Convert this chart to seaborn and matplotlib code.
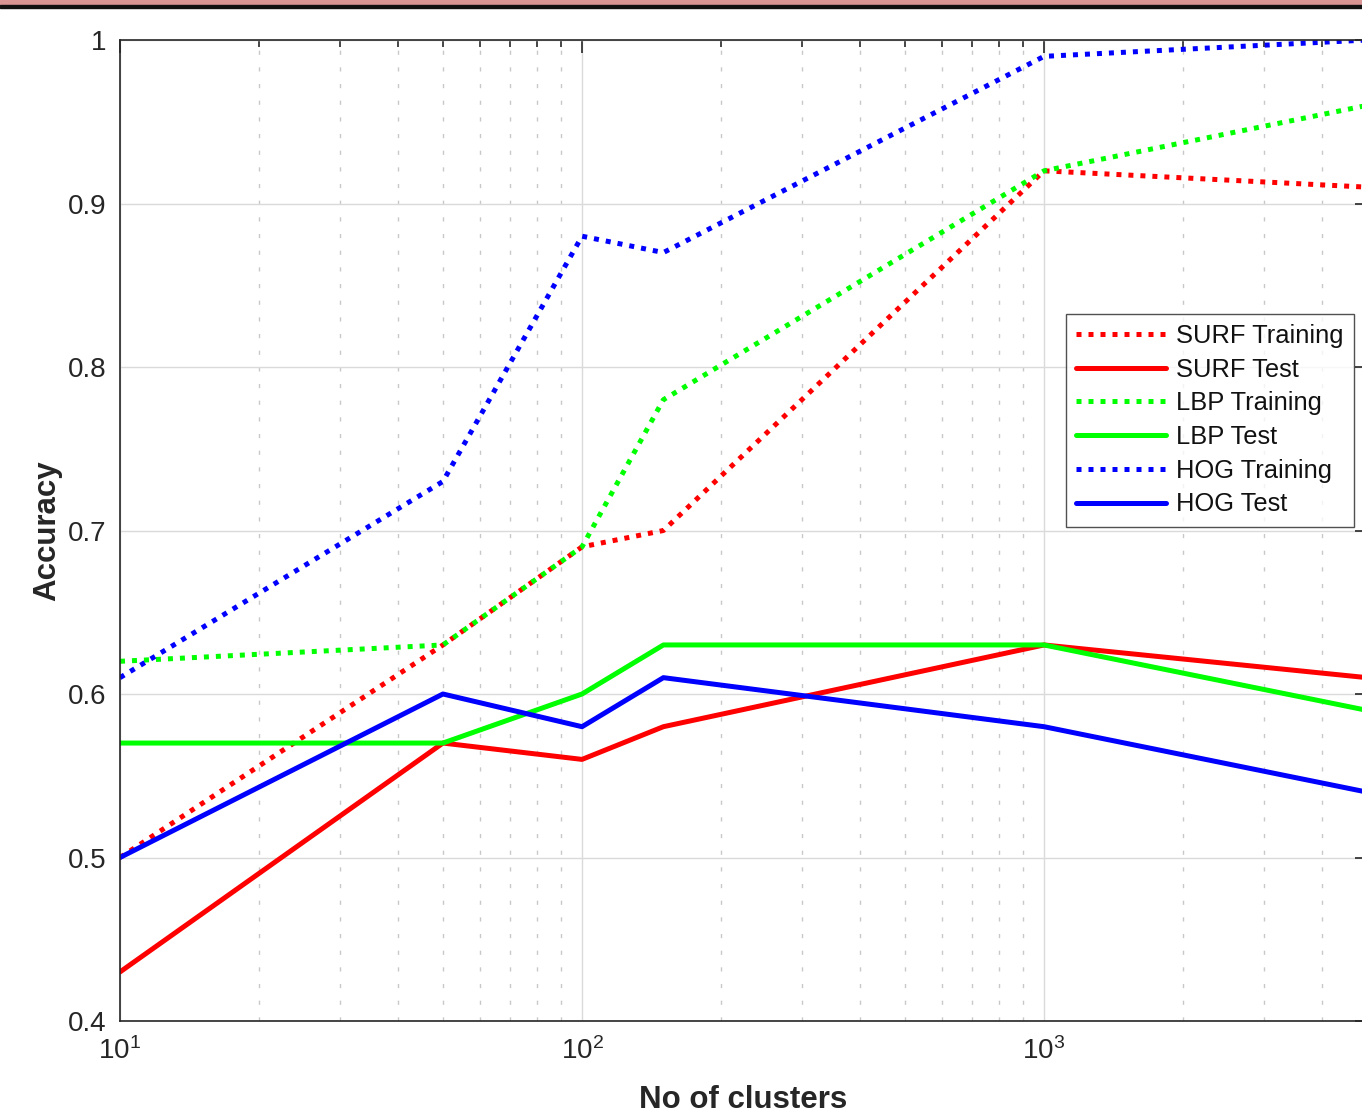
import numpy as np
import pandas as pd
import seaborn as sns
import matplotlib.pyplot as plt
from matplotlib.patches import Rectangle
from matplotlib.ticker import LogLocator, NullFormatter

# data
clusters = [10, 50, 100, 150, 1000, 5000]
surf_train = [0.50, 0.63, 0.69, 0.70, 0.92, 0.91]
surf_test = [0.43, 0.57, 0.56, 0.58, 0.63, 0.61]
lbp_train = [0.62, 0.63, 0.69, 0.78, 0.92, 0.96]
lbp_test = [0.57, 0.57, 0.60, 0.63, 0.63, 0.59]
hog_train = [0.61, 0.73, 0.88, 0.87, 0.99, 1.00]
hog_test = [0.50, 0.60, 0.58, 0.61, 0.58, 0.54]
y_ticks = [0.4, 0.5, 0.6, 0.7, 0.8, 0.9, 1.0]
y_tick_labels = ['0.4', '0.5', '0.6', '0.7', '0.8', '0.9', '1']

series = [
    ('SURF Training', surf_train, '#ff0000', 'dot'),
    ('SURF Test', surf_test, '#ff0000', 'solid'),
    ('LBP Training', lbp_train, '#00ff00', 'dot'),
    ('LBP Test', lbp_test, '#00ff00', 'solid'),
    ('HOG Training', hog_train, '#0000ff', 'dot'),
    ('HOG Test', hog_test, '#0000ff', 'solid'),
]

sns.set_style('white')
plt.rcParams['font.family'] = ['Liberation Sans', 'DejaVu Sans']
plt.rcParams['mathtext.fontset'] = 'custom'
plt.rcParams['mathtext.rm'] = 'Liberation Sans'

TXT = '#262626'
fig = plt.figure(figsize=(13.62, 11.15), dpi=100)
ax = fig.add_axes([120 / 1362, 94 / 1115, 1247 / 1362, 981 / 1115])

for name, vals, col, st in series:
    df = pd.DataFrame({'x': clusters, 'y': vals})
    ls = (0, (1, 1.4)) if st == 'dot' else '-'
    sns.lineplot(data=df, x='x', y='y', ax=ax, color=col, linewidth=3.6,
                 linestyle=ls, label=name, dash_capstyle='butt')

ax.set_xscale('log')
ax.set_xlim(10, 5000)
ax.set_ylim(0.4, 1.0)
ax.set_yticks(y_ticks)
ax.set_yticklabels(y_tick_labels)
ax.xaxis.set_minor_locator(LogLocator(base=10, subs=np.arange(2, 10), numticks=20))
ax.xaxis.set_minor_formatter(NullFormatter())

ax.grid(True, which='major', color='#dadada', linewidth=1.0, linestyle='-')
ax.grid(True, which='minor', axis='x', color='#c8c8c8', linewidth=1.0, linestyle=(0, (3, 9)))
ax.set_axisbelow(True)

ax.tick_params(which='both', direction='in', top=True, right=True, colors=TXT,
               labelsize=20, width=1.2)
ax.tick_params(axis='y', which='major', length=9, pad=10)
ax.tick_params(axis='x', which='major', length=9, pad=12)
ax.tick_params(which='minor', length=5)
for sp in ax.spines.values():
    sp.set_color(TXT)
    sp.set_linewidth(1.2)

ax.set_xlabel('No of clusters', fontsize=22.5, fontweight='bold', color=TXT, labelpad=14)
ax.set_ylabel('Accuracy', fontsize=22.5, fontweight='bold', color=TXT, labelpad=4)

leg = ax.legend(loc='upper left', bbox_to_anchor=(0.7586, 0.721), borderaxespad=0,
                fontsize=18.4, handlelength=3.5, handletextpad=0.4, labelspacing=0.38,
                frameon=True, fancybox=False, borderpad=0.4)
leg.get_frame().set_edgecolor(TXT)
leg.get_frame().set_linewidth(1.0)
for t in leg.get_texts():
    t.set_color('#111111')

# pink strip along the top edge
fig.patches.append(Rectangle((0, 1 - 5 / 1115), 1, 5 / 1115, transform=fig.transFigure,
                             color='#d99494', zorder=10))
fig.patches.append(Rectangle((0, 1 - 8 / 1115), 1, 3 / 1115, transform=fig.transFigure,
                             color='#111111', zorder=10))

fig.savefig('out.png', dpi=100)
